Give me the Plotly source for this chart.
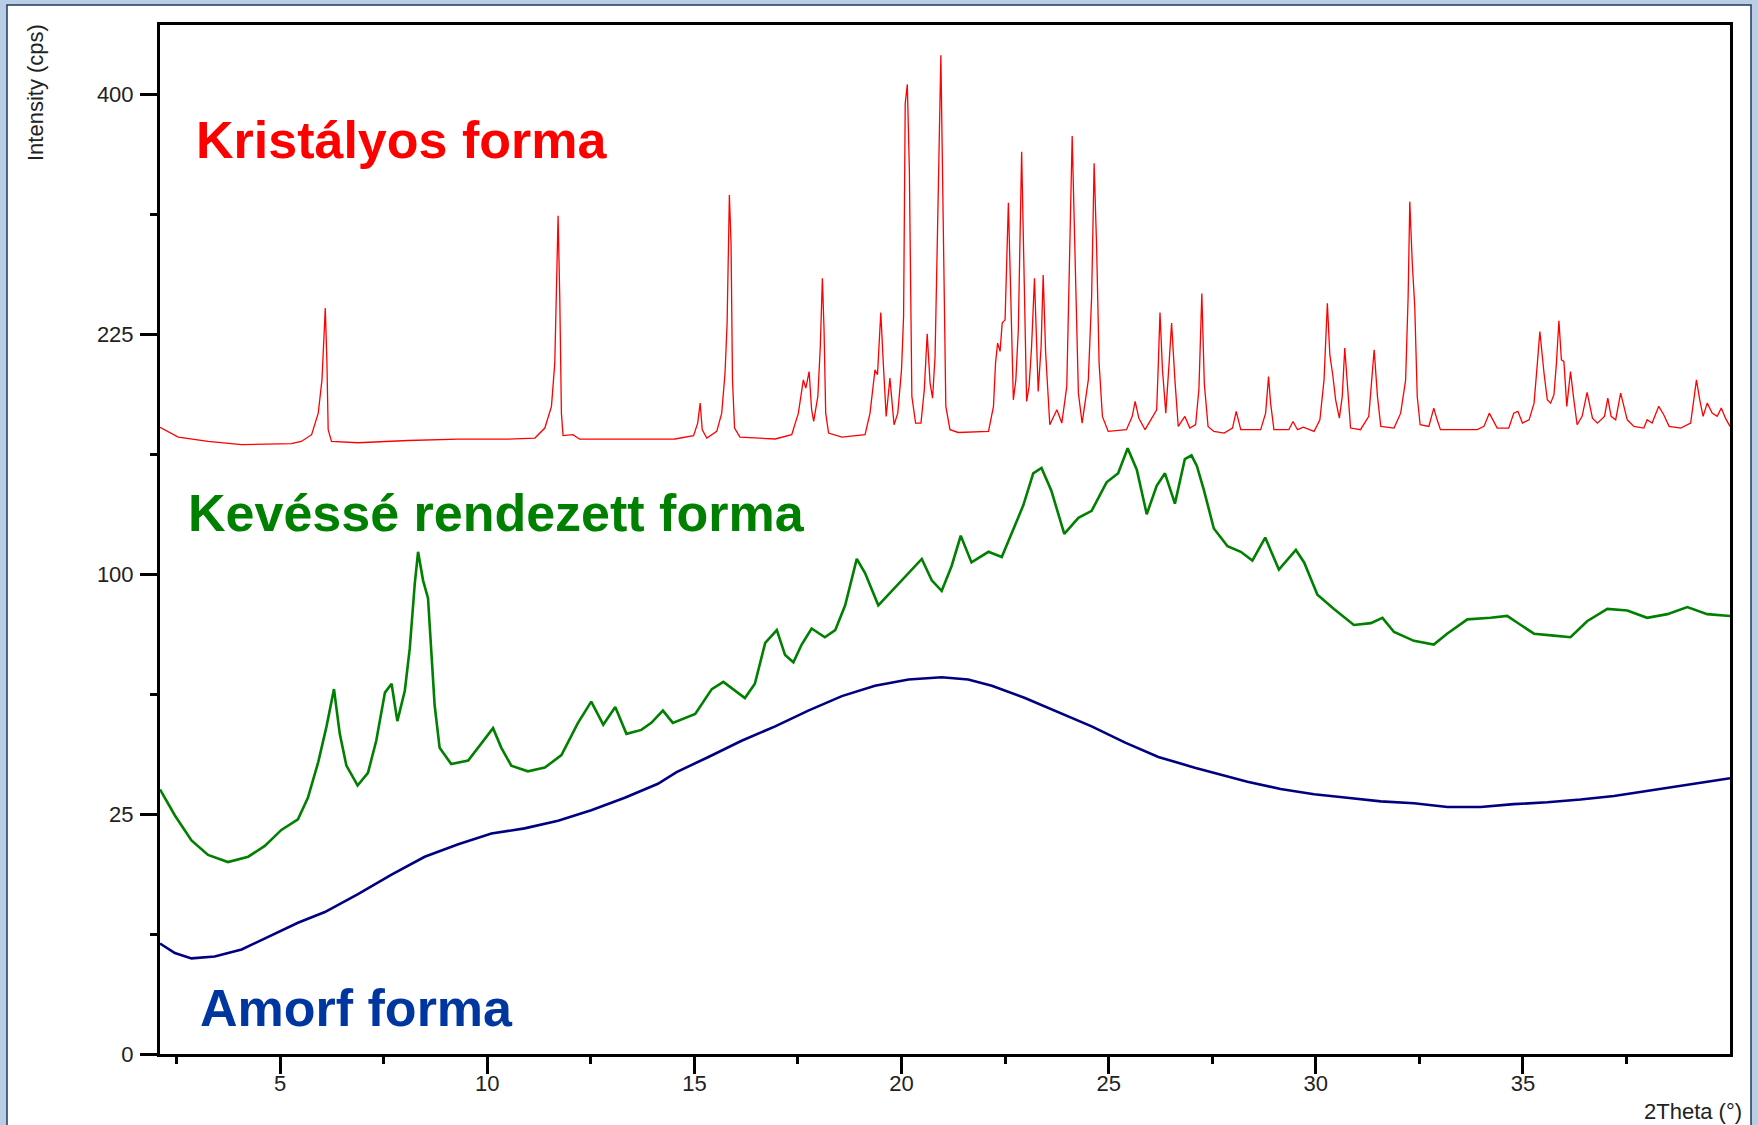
import math
import plotly.graph_objects as go

# ---------------- data (2Theta in degrees, intensity in cps) ----------------
crystal_x = [2.1, 2.54, 3.26, 4.07, 5.27, 5.51, 5.76, 5.92, 6.01, 6.05, 6.09, 6.13, 6.16, 6.24, 6.88,
             8.09, 9.30, 10.50, 11.15, 11.39, 11.55, 11.63, 11.67, 11.71, 11.75, 11.79, 11.83, 12.07,
             12.23, 13.32, 14.53, 14.98, 15.08, 15.14, 15.19, 15.30, 15.54, 15.66, 15.74, 15.79, 15.845,
             15.885, 15.92, 15.97, 16.10, 16.95, 17.35, 17.51, 17.63, 17.69, 17.77, 17.83, 17.88, 17.98,
             18.04, 18.09, 18.13, 18.17, 18.24, 18.56, 19.12, 19.24, 19.36, 19.42, 19.50, 19.56, 19.63,
             19.72, 19.82, 19.91, 20.00, 20.05, 20.09, 20.14, 20.19, 20.25, 20.34, 20.47, 20.55, 20.62,
             20.69, 20.75, 20.81, 20.87, 20.95, 21.01, 21.07, 21.17, 21.37, 22.10, 22.22, 22.27, 22.32,
             22.38, 22.43, 22.50, 22.58, 22.63, 22.70, 22.76, 22.82, 22.90, 22.95, 23.02, 23.08, 23.14,
             23.21, 23.26, 23.30, 23.37, 23.42, 23.48, 23.58, 23.75, 23.87, 23.99, 24.05, 24.12, 24.19,
             24.27, 24.36, 24.51, 24.59, 24.65, 24.71, 24.77, 24.85, 24.99, 25.43, 25.57, 25.64, 25.73,
             25.88, 26.04, 26.16, 26.20, 26.24, 26.30, 26.38, 26.46, 26.52, 26.60, 26.68, 26.84, 26.96,
             27.10, 27.18, 27.25, 27.31, 27.40, 27.54, 27.79, 27.99, 28.08, 28.19, 28.67, 28.79, 28.86,
             28.91, 28.99, 29.35, 29.45, 29.56, 29.70, 29.96, 30.10, 30.20, 30.28, 30.34, 30.41, 30.48,
             30.57, 30.64, 30.70, 30.76, 30.84, 31.08, 31.28, 31.41, 31.49, 31.57, 31.89, 32.05, 32.17,
             32.23, 32.27, 32.33, 32.39, 32.45, 32.52, 32.73, 32.85, 32.93, 33.01, 33.90, 34.06, 34.19,
             34.38, 34.66, 34.78, 34.88, 34.99, 35.15, 35.27, 35.35, 35.41, 35.51, 35.59, 35.67, 35.75,
             35.81, 35.87, 35.93, 35.99, 36.06, 36.15, 36.23, 36.31, 36.43, 36.55, 36.68, 36.80, 36.97,
             37.05, 37.13, 37.24, 37.36, 37.52, 37.68, 37.92, 38.00, 38.12, 38.28, 38.40, 38.53, 38.81,
             39.05, 39.14, 39.19, 39.27, 39.35, 39.45, 39.57, 39.69, 39.79, 39.89, 40.0]
crystal_i = [170.5, 165.2, 162.9, 161.2, 161.7, 162.9, 166.5, 178.3, 197.3, 217.3, 241.5, 207.2, 169.2,
             162.9, 162.2, 163.4, 164.1, 164.1, 164.7, 170.1, 182.1, 207.2, 249.0, 305.1, 249.0, 178.3,
             166.0, 166.5, 164.1, 164.1, 164.2, 166.0, 172.8, 183.9, 169.2, 164.7, 168.3, 178.3, 201.3,
             231.9, 320.3, 285.4, 197.3, 170.1, 165.2, 164.2, 166.5, 178.3, 197.3, 192.5, 202.2, 180.2,
             173.7, 187.7, 217.3, 261.3, 227.7, 178.3, 167.4, 165.2, 166.5, 178.3, 203.2, 200.3, 238.7,
             207.2, 176.5, 198.3, 171.9, 178.3, 203.2, 236.1, 392.3, 408.1, 339.2, 187.7, 172.8, 172.8,
             191.5, 225.2, 195.4, 186.7, 211.2, 294.8, 433.1, 294.8, 182.1, 169.2, 167.7, 168.3, 182.1,
             207.2, 219.4, 214.3, 231.9, 234.0, 314.6, 257.9, 185.8, 197.3, 227.7, 353.4, 276.0, 184.9,
             193.5, 217.3, 261.3, 215.3, 190.6, 217.3, 263.5, 213.3, 171.9, 180.2, 172.8, 193.5, 260.1,
             365.8, 276.0, 189.6, 172.8, 197.3, 249.1, 344.4, 283.0, 207.2, 176.5, 168.3, 169.2, 176.5,
             184.9, 175.5, 169.2, 175.5, 180.2, 207.2, 238.7, 203.2, 178.3, 207.2, 231.9, 197.3, 171.0,
             176.5, 170.1, 172.0, 192.0, 251.0, 195.0, 171.0, 168.3, 167.4, 170.1, 179.3, 169.2, 169.2,
             178.3, 199.3, 183.9, 169.2, 169.2, 173.7, 169.2, 170.6, 168.3, 174.6, 197.3, 244.7, 212.2,
             200.3, 185.8, 175.5, 187.7, 216.3, 195.4, 170.1, 169.2, 176.5, 215.3, 187.7, 171.0, 170.1,
             178.3, 197.3, 249.1, 315.4, 271.5, 242.6, 187.7, 171.9, 171.0, 181.1, 174.6, 169.2, 169.2,
             171.0, 178.3, 170.1, 170.1, 178.3, 179.3, 172.8, 174.6, 183.9, 207.2, 226.6, 201.3, 185.8,
             183.9, 188.7, 207.2, 233.4, 209.2, 208.2, 182.1, 202.2, 185.8, 171.9, 176.5, 190.0, 175.5,
             172.8, 176.5, 186.7, 176.5, 174.6, 189.6, 174.6, 171.0, 170.1, 174.6, 172.8, 182.1, 177.4,
             171.0, 170.1, 172.8, 187.7, 197.3, 185.8, 176.5, 183.9, 178.3, 176.5, 181.1, 175.5, 171.0]

partial_x = [2.1, 2.46, 2.86, 3.26, 3.74, 4.23, 4.63, 5.03, 5.43, 5.67, 5.92, 6.12, 6.30, 6.44, 6.60,
             6.87, 7.12, 7.32, 7.53, 7.69, 7.83, 8.01, 8.13, 8.25, 8.33, 8.45, 8.57, 8.65, 8.73, 8.85,
             9.13, 9.54, 9.90, 10.14, 10.34, 10.58, 10.98, 11.39, 11.79, 12.19, 12.51, 12.80, 13.09,
             13.36, 13.72, 13.96, 14.24, 14.48, 15.02, 15.42, 15.70, 15.98, 16.22, 16.46, 16.71, 16.99,
             17.19, 17.39, 17.59, 17.83, 18.15, 18.40, 18.64, 18.92, 19.12, 19.44, 19.76, 20.17, 20.49,
             20.73, 20.97, 21.21, 21.43, 21.69, 22.10, 22.42, 22.66, 22.94, 23.18, 23.38, 23.62, 23.93,
             24.27, 24.59, 24.95, 25.23, 25.46, 25.68, 25.92, 26.16, 26.36, 26.60, 26.84, 27.00, 27.13,
             27.30, 27.54, 27.87, 28.19, 28.47, 28.78, 29.11, 29.52, 29.72, 30.04, 30.44, 30.92, 31.33,
             31.61, 31.89, 32.37, 32.85, 33.17, 33.66, 34.22, 34.62, 34.95, 35.27, 35.75, 36.15, 36.55,
             37.04, 37.52, 38.00, 38.49, 38.97, 39.45, 40.0]
partial_i = [30.4, 24.7, 19.8, 17.2, 16.0, 16.9, 18.8, 21.8, 23.9, 28.5, 37.0, 46.6, 57.8, 44.5, 36.1,
             31.3, 34.3, 42.6, 56.7, 59.5, 48.1, 57.3, 71.5, 96.0, 109.5, 97.4, 90.2, 71.5, 52.8, 40.7,
             36.5, 37.4, 42.6, 46.1, 40.7, 36.1, 34.7, 35.6, 38.8, 47.6, 53.9, 47.1, 52.3, 44.5, 45.6,
             47.6, 51.2, 47.6, 50.2, 57.8, 60.1, 57.3, 55.0, 59.5, 73.4, 78.0, 69.1, 66.6, 72.8, 78.6,
             75.4, 78.0, 87.4, 106.4, 100.4, 87.4, 93.1, 100.4, 106.4, 97.4, 93.1, 103.4, 116.6, 104.9,
             109.5, 107.2, 117.4, 130.7, 146.4, 149.1, 137.6, 117.4, 124.8, 128.1, 141.9, 146.4, 159.3,
             148.2, 126.5, 140.2, 146.4, 131.5, 153.7, 155.6, 150.1, 138.0, 119.9, 111.9, 109.5, 105.7,
             115.8, 101.9, 110.3, 104.9, 91.6, 86.0, 79.9, 80.6, 82.6, 77.3, 74.1, 72.8, 76.7, 82.0,
             82.6, 83.3, 79.9, 76.7, 76.0, 75.4, 81.3, 86.0, 85.4, 82.6, 84.0, 86.7, 84.0, 83.3]

amorph_x = [2.1, 2.46, 2.86, 3.42, 4.07, 4.71, 5.43, 6.08, 6.88, 7.69, 8.49, 9.30, 10.10, 10.90, 11.71,
            12.51, 13.32, 14.12, 14.57, 15.34, 16.14, 16.95, 17.75, 18.56, 19.36, 20.17, 20.97, 21.61,
            22.18, 22.98, 23.79, 24.59, 25.40, 26.20, 27.08, 27.54, 28.35, 29.15, 29.96, 30.76, 31.57,
            32.37, 33.18, 33.98, 34.78, 35.59, 36.39, 37.20, 38.00, 38.81, 39.45, 40.0]
amorph_i = [5.3, 4.43, 3.97, 4.12, 4.74, 5.94, 7.48, 8.75, 11.09, 13.97, 16.89, 19.1, 21.1, 22.1, 23.6,
            25.8, 28.5, 31.7, 34.5, 38.3, 42.6, 46.6, 51.2, 55.6, 58.9, 60.9, 61.6, 60.9, 58.9, 55.0,
            50.7, 46.6, 42.1, 38.3, 35.6, 34.3, 32.2, 30.5, 29.3, 28.5, 27.7, 27.3, 26.5, 26.5, 27.1,
            27.5, 28.1, 28.9, 30.1, 31.3, 32.2, 33.0]

y_tick_labels = [0, 25, 100, 225, 400]          # square-root intensity axis
y_minor_labels = [6.25, 56.25, 156.25, 306.25]
x_tick_labels = [5, 10, 15, 20, 25, 30, 35]
x_minor_labels = [2.5, 7.5, 12.5, 17.5, 22.5, 27.5, 32.5, 37.5]

series_names = ["Kristályos forma", "Kevéssé rendezett forma", "Amorf forma"]

# ---------------- figure ----------------
def sq(vals):
    return [math.sqrt(v) for v in vals]

FONT = "Liberation Sans, Arial, sans-serif"
W, H = 1758, 1125
ML, MR, MT, MB = 160, 28, 25, 71
PW, PH = W - ML - MR, H - MT - MB

def px(X):
    return (X - ML) / PW

def py(Y):
    return (H - MB - Y) / PH

fig = go.Figure()
fig.add_trace(go.Scatter(x=amorph_x, y=sq(amorph_i), mode="lines", name=series_names[2],
                         line=dict(color="#000080", width=2.6)))
fig.add_trace(go.Scatter(x=partial_x, y=sq(partial_i), mode="lines", name=series_names[1],
                         line=dict(color="#008000", width=2.6)))
fig.add_trace(go.Scatter(x=crystal_x, y=sq(crystal_i), mode="lines", name=series_names[0],
                         line=dict(color="#FF0000", width=1.3)))

label_font = dict(family=FONT, size=52)
annotations = [
    dict(text="<b>Kristályos forma</b>", x=px(194), y=py(140), font=dict(label_font, color="#FF0000")),
    dict(text="<b>Kevéssé rendezett forma</b>", x=px(186), y=py(513), font=dict(label_font, color="#008000")),
    dict(text="<b>Amorf forma</b>", x=px(198), y=py(1008), font=dict(label_font, color="#0036A0")),
]
for a in annotations:
    a.update(xref="paper", yref="paper", xanchor="left", yanchor="middle", showarrow=False)

annotations.append(dict(text="Intensity (cps)", xref="paper", yref="paper", x=px(35), y=py(93),
                        textangle=-90, xanchor="center", yanchor="middle", showarrow=False,
                        font=dict(family=FONT, size=22, color="#222222")))
annotations.append(dict(text="2Theta (°)", xref="paper", yref="paper", x=px(1693), y=py(1111),
                        xanchor="center", yanchor="middle", showarrow=False,
                        font=dict(family=FONT, size=22, color="#222222")))

fig.update_layout(
    width=W, height=H,
    margin=dict(l=ML, r=MR, t=MT, b=MB, pad=0),
    paper_bgcolor="#B9CDE5",
    plot_bgcolor="rgba(0,0,0,0)",
    showlegend=False,
    annotations=annotations,
    shapes=[dict(type="rect", xref="paper", yref="paper", layer="below",
                 x0=px(7), x1=px(1751), y0=py(1140), y1=py(5),
                 fillcolor="white", line=dict(color="#1F3864", width=1.5))],
    font=dict(family=FONT, size=22, color="#222222"),
)
fig.update_xaxes(range=[2.1, 40.0], showline=True, linewidth=3, linecolor="black", mirror=True,
                 showgrid=False, zeroline=False, ticks="outside", ticklen=17, tickwidth=3,
                 tickcolor="black", tickvals=x_tick_labels,
                 ticktext=[str(v) for v in x_tick_labels], ticklabelstandoff=-9,
                 minor=dict(tickvals=x_minor_labels, ticks="outside", ticklen=7, tickwidth=3,
                            tickcolor="black", showgrid=False),
                 tickfont=dict(family=FONT, size=22, color="#222222"))
fig.update_yaxes(range=[0, 21.44], showline=True, linewidth=3, linecolor="black", mirror=True,
                 showgrid=False, zeroline=False, ticks="outside", ticklen=17, tickwidth=3,
                 tickcolor="black", tickvals=sq(y_tick_labels),
                 ticktext=[str(v) for v in y_tick_labels], ticklabelstandoff=2,
                 minor=dict(tickvals=sq(y_minor_labels), ticks="outside", ticklen=7, tickwidth=3,
                            tickcolor="black", showgrid=False),
                 tickfont=dict(family=FONT, size=22, color="#222222"))

fig.write_html("out.html", config={"displayModeBar": False},
               post_script="document.body.style.margin='0px';"
                           "document.body.style.overflow='hidden';"
                           "document.documentElement.style.overflow='hidden';")
